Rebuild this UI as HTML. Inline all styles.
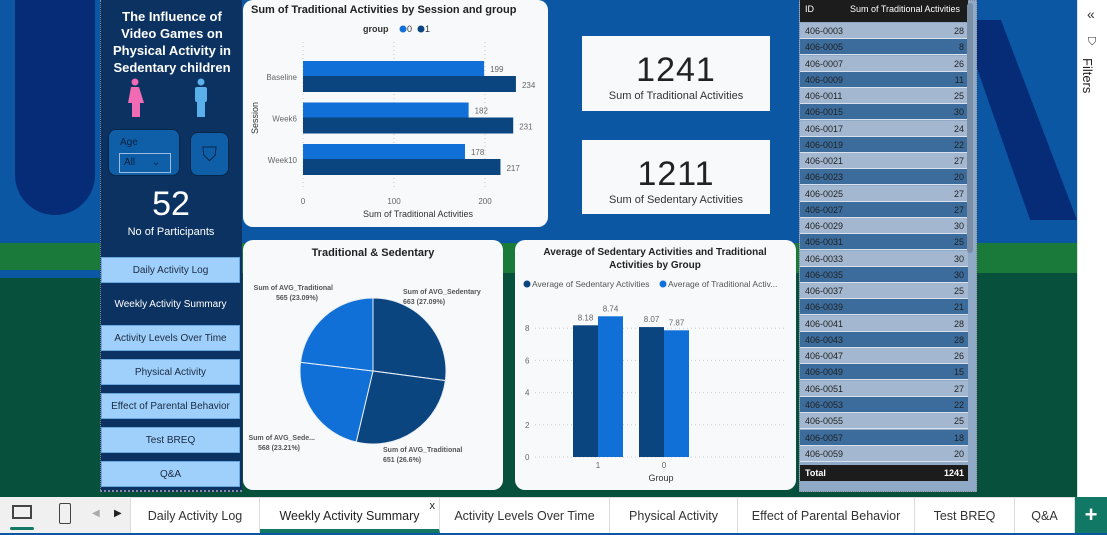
<!DOCTYPE html>
<html><head><meta charset="utf-8">
<style>
*{box-sizing:border-box;margin:0;padding:0}
body{width:1107px;height:533px;overflow:hidden;position:relative;font-family:"Liberation Sans",sans-serif;background:#0b57a4}
.abs{position:absolute}
.panel{position:absolute;background:#f7f9fb;border-radius:10px}
.nav{position:absolute;left:101px;width:139px;height:26px;background:#9fd0fb;border:1px solid #6aa8e0;font-size:10px;color:#1a2a40;text-align:center;line-height:25px}
.tab{position:absolute;top:497px;height:36px;line-height:38px;font-size:12.5px;color:#333;text-align:center;border-right:1px solid #ddd}
.trow{position:absolute;left:800px;width:168px;height:16px;font-size:9px;color:#222;line-height:16px}
</style></head><body>
<!-- background -->
<div class="abs" style="left:15px;top:0;width:80px;height:215px;background:#062c78;border-radius:0 0 40px 40px"></div>
<div class="abs" style="left:960px;top:20px;width:117px;height:200px;background:#062c78;clip-path:polygon(0 0,35% 0,100% 100%,60% 100%)"></div>
<div class="abs" style="left:0;top:243px;width:1077px;height:30px;background:#1a7a3a"></div>
<div class="abs" style="left:0;top:273px;width:1077px;height:224px;background:#07503c"></div>
<div class="abs" style="left:0;top:270px;width:100px;height:8px;background:#0b57a4"></div>

<!-- left panel -->
<div class="abs" style="left:100px;top:0;width:142px;height:492px;background:#0b3260;border-left:1px dotted #889;border-bottom:2px dotted #889"></div>
<div class="abs" style="left:108px;top:8px;width:128px;color:#fff;font-weight:bold;font-size:13px;line-height:17px;text-align:center">The Influence of Video Games on Physical Activity in Sedentary children</div>
<svg class="abs" style="left:124px;top:78px" width="22" height="40"><circle cx="11" cy="4" r="3.5" fill="#f06ab4"/><path d="M7 9h8l5 16h-4v14h-8v-14h-4z" fill="#f06ab4"/></svg>
<svg class="abs" style="left:190px;top:78px" width="22" height="40"><circle cx="11" cy="4" r="3.5" fill="#5ab0ea"/><rect x="5" y="9" width="12" height="15" rx="2" fill="#5ab0ea"/><rect x="7" y="22" width="8" height="17" fill="#5ab0ea"/></svg>
<div class="abs" style="left:108px;top:129px;width:72px;height:47px;background:#0f5fa8;border:1px solid #06264a;border-radius:8px">
<div style="position:absolute;left:11px;top:7px;font-size:10px;color:#0a2240">Age</div>
<div style="position:absolute;left:10px;top:23px;width:52px;height:20px;border:1px solid #9bbbe0;font-size:10px;color:#0a2240;padding:3px 4px">All <span style="margin-left:14px">⌄</span></div></div>
<div class="abs" style="left:190px;top:132px;width:39px;height:44px;background:#0f5fa8;border:1px solid #06264a;border-radius:8px;text-align:center;line-height:44px;color:#06264a;font-size:20px">⛉</div>
<div class="abs" style="left:100px;top:184px;width:142px;text-align:center;color:#fff;font-size:34px;line-height:40px">52</div>
<div class="abs" style="left:100px;top:226px;width:142px;text-align:center;color:#fff;font-size:11px">No of Participants</div>
<div class="nav" style="top:257px">Daily Activity Log</div>
<div class="nav" style="top:291px;background:#0b3260;color:#fff;border-color:#0b3260">Weekly Activity Summary</div>
<div class="nav" style="top:325px">Activity Levels Over Time</div>
<div class="nav" style="top:359px">Physical Activity</div>
<div class="nav" style="top:393px">Effect of Parental Behavior</div>
<div class="nav" style="top:427px">Test BREQ</div>
<div class="nav" style="top:461px">Q&amp;A</div>

<!-- bar chart -->
<div class="panel" style="left:243px;top:0;width:305px;height:227px"></div>
<svg class="abs" id="barsvg" style="left:243px;top:0" width="305" height="227"></svg>

<!-- KPI cards -->
<div class="abs" style="left:582px;top:36px;width:188px;height:75px;background:#f7f9fb">
<div style="text-align:center;font-size:34px;color:#222;margin-top:14px;line-height:40px;letter-spacing:1px">1241</div>
<div style="text-align:center;font-size:11px;color:#333">Sum of Traditional Activities</div></div>
<div class="abs" style="left:582px;top:140px;width:188px;height:74px;background:#f7f9fb">
<div style="text-align:center;font-size:34px;color:#222;margin-top:14px;line-height:40px;letter-spacing:1px">1211</div>
<div style="text-align:center;font-size:11px;color:#333">Sum of Sedentary Activities</div></div>

<!-- pie -->
<div class="panel" style="left:243px;top:240px;width:260px;height:250px"></div>
<svg class="abs" id="piesvg" style="left:243px;top:240px" width="260" height="250"></svg>

<!-- column chart -->
<div class="panel" style="left:515px;top:240px;width:281px;height:250px"></div>
<svg class="abs" id="colsvg" style="left:515px;top:240px" width="281" height="250"></svg>

<!-- table -->
<div class="abs" style="left:799px;top:0;width:178px;height:492px;border:1px dotted #889;background:#8fa9c6"></div>
<div class="abs" style="left:800px;top:0;width:168px;height:22px;background:#1c1c1c;color:#fff;font-size:9px">
<span style="position:absolute;left:5px;top:4px">ID</span><span style="position:absolute;left:50px;top:4px">Sum of Traditional Activities</span></div>
<div id="tbody"></div>
<div class="abs" style="left:800px;top:465px;width:168px;height:16px;background:#1c1c1c;color:#fff;font-size:9px;font-weight:bold;line-height:16px"><span style="position:absolute;left:5px">Total</span><span style="position:absolute;right:4px">1241</span></div>
<div class="abs" style="left:967px;top:3px;width:6px;height:250px;background:#7a8ea8;border-radius:3px"></div>

<!-- filter pane -->
<div class="abs" style="left:1077px;top:0;width:30px;height:497px;background:#fff;border-left:1px solid #ddd">
<div style="position:absolute;left:9px;top:6px;font-size:14px;color:#333">«</div>
<div style="position:absolute;left:10px;top:36px;font-size:11px;color:#333">⛉</div>
<div style="position:absolute;left:2px;top:58px;font-size:13px;color:#222;writing-mode:vertical-rl">Filters</div></div>

<!-- bottom tabs -->
<div class="abs" style="left:0;top:497px;width:1107px;height:36px;background:#fff;border-top:1px solid #ddd"></div>
<div class="abs" style="left:0;top:497px;width:130px;height:36px;background:#f0f0f0"></div>
<div class="abs" style="left:12px;top:505px;width:20px;height:14px;border:2px solid #444"></div>
<div class="abs" style="left:10px;top:527px;width:24px;height:3px;background:#117865;border-radius:2px"></div>
<div class="abs" style="left:59px;top:503px;width:12px;height:21px;border:1.5px solid #444;border-radius:2px"></div>
<div class="abs" style="left:92px;top:508px;font-size:10px;color:#aaa">◀</div>
<div class="abs" style="left:114px;top:508px;font-size:10px;color:#222">▶</div>
<div class="tab" style="left:130px;width:130px;border-left:1px solid #ddd">Daily Activity Log</div>
<div class="tab" style="left:260px;width:180px;color:#222;border-bottom:4px solid #117865;line-height:38px">Weekly Activity Summary<span style="position:absolute;right:4px;top:-10px;font-size:11px">x</span></div>
<div class="tab" style="left:440px;width:170px">Activity Levels Over Time</div>
<div class="tab" style="left:610px;width:128px">Physical Activity</div>
<div class="tab" style="left:738px;width:177px">Effect of Parental Behavior</div>
<div class="tab" style="left:915px;width:100px">Test BREQ</div>
<div class="tab" style="left:1015px;width:60px">Q&amp;A</div>
<div class="abs" style="left:1075px;top:497px;width:32px;height:36px;background:#117865;color:#fff;font-size:22px;text-align:center;line-height:36px;font-weight:bold">+</div>

<script>
const NS='http://www.w3.org/2000/svg';
function mk(p,t,a,txt){const e=document.createElementNS(NS,t);for(const k in a)e.setAttribute(k,a[k]);if(txt!==undefined)e.textContent=txt;p.appendChild(e);return e;}

// ---- Bar chart data ----
const sessions=['Baseline','Week6','Week10'];
const group0=[199,182,178];
const group1=[234,231,217];
const barTicks=[0,100,200];
(function(){
const s=document.getElementById('barsvg');
const x0=60,k=0.91; const X=v=>x0+v*k;
const t=mk(s,'text',{x:8,y:13,'font-size':11,'font-weight':'bold',fill:'#222'},'Sum of Traditional Activities by Session and group');

mk(s,'text',{x:120,y:32,'font-size':9,'font-weight':'bold',fill:'#333'},'group');
mk(s,'circle',{cx:160,cy:29,r:3.5,fill:'#1170d8'});mk(s,'text',{x:164,y:32,'font-size':9,fill:'#333'},'0');
mk(s,'circle',{cx:178,cy:29,r:3.5,fill:'#0b4580'});mk(s,'text',{x:182,y:32,'font-size':9,fill:'#333'},'1');
barTicks.forEach(v=>{mk(s,'line',{x1:X(v),x2:X(v),y1:42,y2:190,stroke:'#ccc','stroke-dasharray':'1,3'});
 const l=mk(s,'text',{x:X(v),y:204,'font-size':8,fill:'#666','text-anchor':'middle'},v);});
mk(s,'text',{x:175,y:217,'font-size':9,fill:'#333','text-anchor':'middle'},'Sum of Traditional Activities');
const yt=mk(s,'text',{x:15,y:118,'font-size':9,fill:'#333','text-anchor':'middle',transform:'rotate(-90 15 118)'},'Session');

sessions.forEach((c,i)=>{const top=61+i*41.5;
 mk(s,'text',{x:54,y:top+19,'font-size':8,fill:'#666','text-anchor':'end'},c);
 const b0=mk(s,'rect',{x:X(0),y:top,width:X(group0[i])-X(0),height:15,fill:'#1170d8'});
 
 const b1=mk(s,'rect',{x:X(0),y:top+15,width:X(group1[i])-X(0),height:16,fill:'#0b4580'});
 
 mk(s,'text',{x:X(group0[i])+6,y:top+11,'font-size':8,fill:'#666'},group0[i]);
 mk(s,'text',{x:X(group1[i])+6,y:top+27,'font-size':8,fill:'#666'},group1[i]);
});
})();

// ---- Pie data ----
const pieLabels=['Sum of AVG_Sedentary','Sum of AVG_Traditional','Sum of AVG_Sede...','Sum of AVG_Traditional'];
const pieValues=[663,651,568,565];
const pieColors=['#0b4580','#0b4580','#1170d8','#1170d8'];
(function(){
const s=document.getElementById('piesvg');
mk(s,'text',{x:130,y:16,'font-size':11,'font-weight':'bold',fill:'#222','text-anchor':'middle'},'Traditional & Sedentary');
const cx=130,cy=131,r=73;const tot=pieValues.reduce((a,b)=>a+b,0);let a=-Math.PI/2;
const lpos=[[160,54,'start'],[140,212,'start'],[72,200,'end'],[90,50,'end']];
pieValues.forEach((v,i)=>{const a2=a+v/tot*2*Math.PI;
 const p=`M${cx},${cy}L${cx+r*Math.cos(a)},${cy+r*Math.sin(a)}A${r},${r} 0 ${a2-a>Math.PI?1:0} 1 ${cx+r*Math.cos(a2)},${cy+r*Math.sin(a2)}Z`;
 const sl=mk(s,'path',{d:p,fill:pieColors[i],stroke:'#e8eef5','stroke-width':1});
 
 const [lx,ly,an]=lpos[i];
 mk(s,'text',{x:lx,y:ly,'font-size':7,'font-weight':'bold',fill:'#555','text-anchor':an},pieLabels[i]);
 mk(s,'text',{x:lx+(an==='end'?-15:0),y:ly+10,'font-size':7,'font-weight':'bold',fill:'#555','text-anchor':an},v+' ('+(+(v/tot*100).toFixed(2))+'%)');
 a=a2;});
})();

// ---- Column chart data ----
const groups=['1','0'];
const sedentaryAvg=[8.18,8.07];
const traditionalAvg=[8.74,7.87];
const colTicks=[0,2,4,6,8];
(function(){
const s=document.getElementById('colsvg');
const y0=217,k=16.1;const Y=v=>y0-v*k;
mk(s,'text',{x:140,y:15,'font-size':10,'font-weight':'bold',fill:'#222','text-anchor':'middle'},'Average of Sedentary Activities and Traditional');
mk(s,'text',{x:140,y:28,'font-size':10,'font-weight':'bold',fill:'#222','text-anchor':'middle'},'Activities by Group');
mk(s,'circle',{cx:12,cy:44,r:3.5,fill:'#0b4580'});mk(s,'text',{x:17,y:47,'font-size':8.5,fill:'#555'},'Average of Sedentary Activities');
mk(s,'circle',{cx:148,cy:44,r:3.5,fill:'#1170d8'});mk(s,'text',{x:153,y:47,'font-size':8.5,fill:'#555'},'Average of Traditional Activ...');
colTicks.forEach(v=>{mk(s,'line',{x1:20,x2:272,y1:Y(v),y2:Y(v),stroke:'#ccc','stroke-dasharray':'1,3'});
 mk(s,'text',{x:10,y:Y(v)+3,'font-size':8,fill:'#666'},v);});
groups.forEach((g,i)=>{const gx=58+i*66;
 const b0=mk(s,'rect',{x:gx,y:Y(sedentaryAvg[i]),width:25,height:Y(0)-Y(sedentaryAvg[i]),fill:'#0b4580'});
 
 const b1=mk(s,'rect',{x:gx+25,y:Y(traditionalAvg[i]),width:25,height:Y(0)-Y(traditionalAvg[i]),fill:'#1170d8'});
 
 mk(s,'text',{x:gx+12.5,y:Y(sedentaryAvg[i])-5,'font-size':8,fill:'#666','text-anchor':'middle'},sedentaryAvg[i].toFixed(2));
 mk(s,'text',{x:gx+37.5,y:Y(traditionalAvg[i])-5,'font-size':8,fill:'#666','text-anchor':'middle'},traditionalAvg[i].toFixed(2));
 mk(s,'text',{x:gx+25,y:228,'font-size':8,fill:'#666','text-anchor':'middle'},g);});
mk(s,'text',{x:146,y:241,'font-size':9,fill:'#333','text-anchor':'middle'},'Group');
})();

// ---- Table data ----
const tableIds=['406-0003','406-0005','406-0007','406-0009','406-0011','406-0015','406-0017','406-0019','406-0021','406-0023','406-0025','406-0027','406-0029','406-0031','406-0033','406-0035','406-0037','406-0039','406-0041','406-0043','406-0047','406-0049','406-0051','406-0053','406-0055','406-0057','406-0059'];
const tableValues=[28,8,26,11,25,30,24,22,27,20,27,27,30,25,30,30,25,21,28,28,26,15,27,22,25,18,20];
(function(){
const tb=document.getElementById('tbody');
tableIds.forEach((id,i)=>{const r=document.createElement('div');
 r.className='trow';
 
 
 r.style.top=(23+i*16.26)+'px';r.style.background=i%2?'#3b6c9c':'#a3b8d0';
 r.style.borderBottom='1px solid #d8e2ee';
 r.innerHTML='<span style="position:absolute;left:5px">'+id+'</span><span style="position:absolute;right:4px">'+tableValues[i]+'</span>';
 tb.appendChild(r);});
})();
</script>
</body></html>
